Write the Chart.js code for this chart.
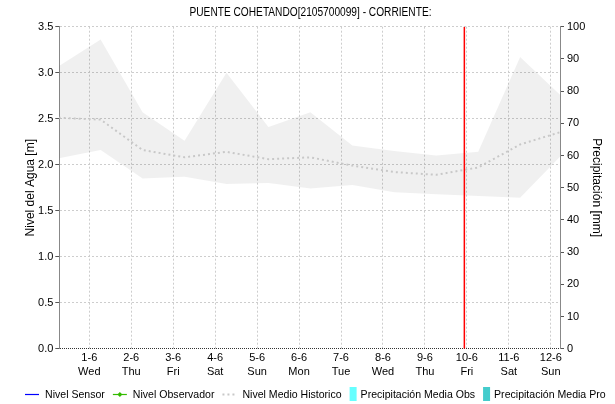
<!DOCTYPE html>
<html>
<head>
<meta charset="utf-8">
<script src="https://cdn.jsdelivr.net/npm/chart.js@4.4.1/dist/chart.umd.min.js"></script>
<style>
  html, body { margin: 0; padding: 0; background: #fff; }
  canvas { display: block; }
</style>
</head>
<body>
<canvas id="c" width="615" height="404"></canvas>
<script>
// Day labels of the x axis (day 0 = 1-6 at 00:00)
const dayLabels = ['1-6', '2-6', '3-6', '4-6', '5-6', '6-6', '7-6', '8-6', '9-6', '10-6', '11-6', '12-6'];
const weekdays = ['Wed', 'Thu', 'Fri', 'Sat', 'Sun', 'Mon', 'Tue', 'Wed', 'Thu', 'Fri', 'Sat', 'Sun'];
const levelTicks = [0, 0.5, 1, 1.5, 2, 2.5, 3, 3.5];
const rainTicks = [0, 10, 20, 30, 40, 50, 60, 70, 80, 90, 100];

// Historic daily statistics, one sample per day (first one on 31-5)
const sampleDays = [-0.73, 0.27, 1.27, 2.27, 3.27, 4.27, 5.27, 6.27, 7.27, 8.27, 9.27, 10.27, 11.27];
const histMax  = [3.07, 3.36, 2.57, 2.26, 3.00, 2.41, 2.57, 2.21, 2.15, 2.10, 2.14, 3.17, 2.74];
const histMin  = [2.07, 2.16, 1.85, 1.87, 1.79, 1.80, 1.74, 1.78, 1.70, 1.68, 1.66, 1.64, 2.11];
const histMean = [2.51, 2.49, 2.16, 2.08, 2.14, 2.06, 2.08, 1.99, 1.92, 1.89, 1.97, 2.22, 2.36];

// Live series (no readings in this period)
const sensorLevel = [];
const observerLevel = [];
const precipObs = [];
const precipPro = [];

// Current time marker, in days
const nowDay = 8.94;

const chartTitle = 'PUENTE COHETANDO[2105700099] - CORRIENTE:';

const pts = (xs, ys) => ys.map((y, i) => ({ x: xs[i], y }));

const FAMILY = "'Liberation Sans', Arial, sans-serif";
const GRID = '#cdcdcd';
Chart.defaults.font.family = FAMILY;
Chart.defaults.font.size = 11;
Chart.defaults.color = '#000';

// Narrow heading above the plot
const heading = {
  id: 'heading',
  afterDraw(chart, args, opts) {
    const ctx = chart.ctx;
    ctx.save();
    ctx.font = '12px ' + FAMILY;
    ctx.fillStyle = '#000';
    ctx.textAlign = 'center';
    ctx.textBaseline = 'middle';
    ctx.fillText(opts.text, opts.x, opts.y, opts.width);
    ctx.restore();
  }
};

// Legend drawn beneath the axes, one entry per labelled series
const bottomLegend = {
  id: 'bottomLegend',
  afterDraw(chart, args, opts) {
    const ctx = chart.ctx;
    const items = opts.items.map(i => chart.data.datasets[i]);
    ctx.save();
    ctx.font = '11px ' + FAMILY;
    ctx.textBaseline = 'middle';
    let x = opts.startX;
    const y = opts.y;
    items.forEach(ds => {
      const isBar = ds.type === 'bar';
      const w = isBar ? 7 : 14;
      if (isBar) {
        ctx.fillStyle = ds.backgroundColor;
        ctx.fillRect(x, y - 7, w, 14);
      } else {
        ctx.strokeStyle = ds.borderColor;
        ctx.lineWidth = ds.legendLineWidth || ds.borderWidth;
        ctx.setLineDash(ds.borderDash || []);
        ctx.beginPath();
        ctx.moveTo(x, y + 0.5);
        ctx.lineTo(x + w, y + 0.5);
        ctx.stroke();
        ctx.setLineDash([]);
        if (ds.legendMarker) {
          ctx.fillStyle = ds.borderColor;
          ctx.beginPath();
          ctx.moveTo(x + w / 2, y - 2);
          ctx.lineTo(x + w / 2 + 2.5, y + 0.5);
          ctx.lineTo(x + w / 2, y + 3);
          ctx.lineTo(x + w / 2 - 2.5, y + 0.5);
          ctx.closePath();
          ctx.fill();
        }
      }
      x += w + (isBar ? 4 : 6);
      const tw = ctx.measureText(ds.label).width * opts.squeeze;
      ctx.fillStyle = '#000';
      ctx.fillText(ds.label, x, y + 1, tw);
      x += tw + opts.itemGap;
    });
    ctx.restore();
  }
};

new Chart(document.getElementById('c'), {
  type: 'line',
  data: {
    datasets: [
      {
        label: 'Ahora',
        data: [{ x: nowDay, y: 0 }, { x: nowDay, y: 3.5 }],
        borderColor: '#ff0000',
        borderWidth: 1.5,
        pointRadius: 0,
        fill: false
      },
      {
        label: 'Nivel Sensor',
        data: sensorLevel,
        borderColor: '#0000ff',
        borderWidth: 1.5,
        legendLineWidth: 1.2,
        pointRadius: 0
      },
      {
        label: 'Nivel Observador',
        data: observerLevel,
        borderColor: '#33bb00',
        borderWidth: 1.5,
        legendLineWidth: 1.2,
        pointRadius: 2,
        legendMarker: true
      },
      {
        label: 'Nivel Medio Historico',
        data: pts(sampleDays, histMean),
        borderColor: '#c8c8c8',
        borderWidth: 2,
        borderDash: [2, 3],
        pointRadius: 0,
        tension: 0,
        fill: false
      },
      {
        label: 'Máximo Historico',
        data: pts(sampleDays, histMax),
        borderWidth: 0,
        borderColor: 'rgba(0,0,0,0)',
        backgroundColor: 'rgba(0,0,0,0.06)',
        pointRadius: 0,
        tension: 0,
        fill: '+1'
      },
      {
        label: 'Mínimo Historico',
        data: pts(sampleDays, histMin),
        borderWidth: 0,
        borderColor: 'rgba(0,0,0,0)',
        pointRadius: 0,
        tension: 0,
        fill: false
      },
      {
        type: 'bar',
        label: 'Precipitación Media Obs',
        data: precipObs,
        backgroundColor: '#66ffff',
        yAxisID: 'y1'
      },
      {
        type: 'bar',
        label: 'Precipitación Media Pro',
        data: precipPro,
        backgroundColor: '#44cccc',
        yAxisID: 'y1'
      }
    ]
  },
  options: {
    responsive: false,
    animation: false,
    events: [],
    layout: { padding: { top: 26.7, left: 0, right: 0, bottom: 0 } },
    plugins: {
      legend: { display: false },
      tooltip: { enabled: false },
      title: { display: false },
      heading: { text: chartTitle, x: 310.5, y: 12.5, width: 242 },
      bottomLegend: { items: [1, 2, 3, 6, 7], startX: 25, y: 394, itemGap: 8, squeeze: 0.96 }
    },
    scales: {
      x: {
        type: 'linear',
        min: -0.715,
        max: 11.22,
        offset: false,
        afterBuildTicks: s => { s.ticks = dayLabels.map((_, i) => ({ value: i })); },
        afterFit: s => { s.height = 55.3; },
        ticks: {
          autoSkip: false,
          maxRotation: 0,
          padding: 2,
          color: '#000',
          font: { size: 11, lineHeight: 1.28 },
          callback: v => [dayLabels[v], weekdays[v]]
        },
        grid: { color: GRID, offset: false, drawTicks: false },
        border: { display: false, dash: [2, 2] }
      },
      y: {
        position: 'left',
        min: 0,
        max: 3.5,
        afterBuildTicks: s => { s.ticks = levelTicks.map(v => ({ value: v })); },
        afterFit: s => { s.width = 59.3; },
        ticks: { padding: 2, color: '#000', callback: v => v.toFixed(1) },
        grid: {
          color: c => (c.tick && c.tick.value === 0 ? '#333' : GRID),
          tickColor: '#555',
          tickLength: 4
        },
        border: {
          color: '#888',
          dash: c => (c.tick && c.tick.value === 0 ? [1, 1] : [2, 2])
        },
        title: {
          display: true,
          text: 'Nivel del Agua [m]',
          color: '#000',
          font: { size: 12 },
          padding: { top: 23, bottom: 0 }
        }
      },
      y1: {
        position: 'right',
        min: 0,
        max: 100,
        afterBuildTicks: s => { s.ticks = rainTicks.map(v => ({ value: v })); },
        afterFit: s => { s.width = 55; },
        ticks: { padding: 3, color: '#000' },
        grid: { drawOnChartArea: false, tickColor: '#555', tickLength: 4 },
        border: { color: '#888' },
        title: {
          display: true,
          text: 'Precipitación [mm]',
          color: '#000',
          font: { size: 12 },
          padding: { top: 11, bottom: 0 }
        }
      }
    }
  },
  plugins: [heading, bottomLegend]
});
</script>
</body>
</html>
